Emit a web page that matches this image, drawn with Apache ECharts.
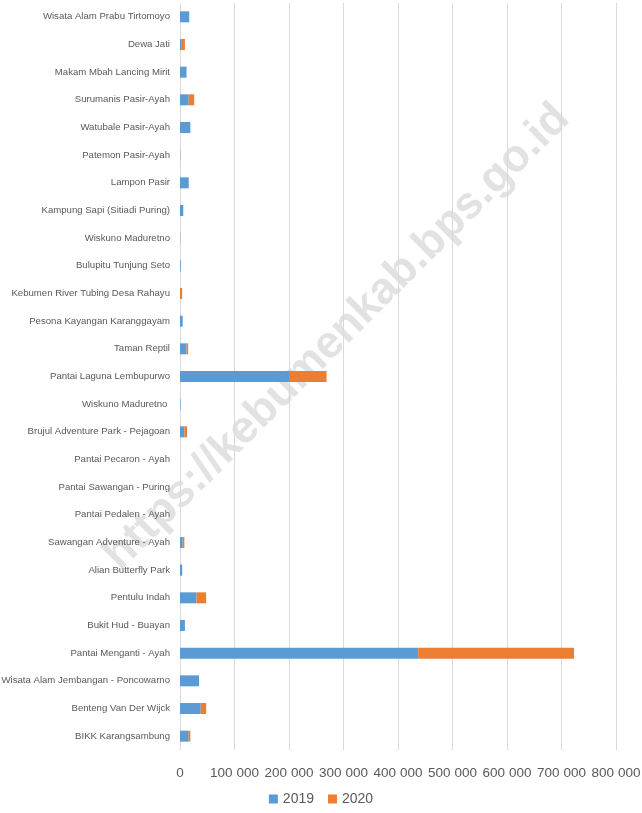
<!DOCTYPE html>
<html>
<head>
<meta charset="utf-8">
<script src="https://cdn.jsdelivr.net/npm/echarts@6/dist/echarts.min.js"></script>
<style>
  html, body { margin: 0; padding: 0; background: #fff; }
  #main { width: 642px; height: 813px; }
</style>
</head>
<body>
<div id="main"></div>
<script>
// categories listed bottom to top (as the axis draws them)
const places = [
  "BIKK Karangsambung",
  "Benteng Van Der Wijck",
  "Wisata Alam Jembangan - Poncowarno",
  "Pantai Menganti - Ayah",
  "Bukit Hud - Buayan",
  "Pentulu Indah",
  "Alian Butterfly Park",
  "Sawangan Adventure - Ayah",
  "Pantai Pedalen - Ayah",
  "Pantai Sawangan - Puring",
  "Pantai Pecaron - Ayah",
  "Brujul Adventure Park - Pejagoan",
  "Wiskuno Maduretno ",
  "Pantai Laguna Lembupurwo",
  "Taman Reptil",
  "Pesona Kayangan Karanggayam",
  "Kebumen River Tubing Desa Rahayu",
  "Bulupitu Tunjung Seto",
  "Wiskuno Maduretno",
  "Kampung Sapi (Sitiadi Puring)",
  "Lampon Pasir",
  "Patemon Pasir-Ayah",
  "Watubale Pasir-Ayah",
  "Surumanis Pasir-Ayah",
  "Makam Mbah Lancing Mirit",
  "Dewa Jati",
  "Wisata Alam Prabu Tirtomoyo"
];
const visitors2019 = [16000, 38000, 35000, 437000, 9000, 30500, 4000, 5000, 0, 0, 0, 8000, 1000, 200000, 12000, 5000, 0, 1500, 500, 6000, 16000, 500, 19000, 16000, 12000, 2000, 17000];
const visitors2020 = [3000, 10000, 0, 286000, 0, 17500, 0, 3000, 0, 0, 0, 5000, 0, 69000, 3000, 0, 4000, 0, 0, 0, 0, 0, 0, 10000, 0, 7000, 0];
const years = ["2019", "2020"];
const xTicks = { min: 0, max: 800000, step: 100000 };

const chart = echarts.init(document.getElementById("main"));

function fmt(v) {
  return String(v).replace(/\B(?=(\d{3})+(?!\d))/g, " ");
}

const option = {
  animation: false,
  color: ["#5b9bd5", "#ed7d31"],
  grid: { left: 180, right: 26, top: 3, bottom: 63, containLabel: false, outerBoundsMode: "none" },
  legend: {
    bottom: 2,
    left: "center",
    itemWidth: 9,
    itemHeight: 9,
    itemGap: 14,
    icon: "rect",
    textStyle: { color: "#595959", fontSize: 14, fontFamily: "Liberation Sans" },
    data: years
  },
  xAxis: {
    type: "value",
    min: xTicks.min,
    max: xTicks.max,
    interval: xTicks.step,
    axisLine: { show: false },
    axisTick: { show: false },
    splitLine: { lineStyle: { color: "#d9d9d9", width: 1 } },
    axisLabel: {
      color: "#595959",
      fontSize: 13.5,
      fontFamily: "Liberation Sans",
      margin: 16,
      formatter: fmt,
      showMinLabel: true,
      showMaxLabel: true
    }
  },
  yAxis: {
    type: "category",
    data: places,
    axisLine: { show: false },
    axisTick: { show: false },
    axisLabel: {
      color: "#595959",
      fontSize: 9.6,
      fontFamily: "Liberation Sans",
      margin: 10,
      interval: 0
    }
  },
  graphic: [{
    type: "text",
    x: 337,
    y: 337,
    z: -10,
    silent: true,
    rotation: Math.PI / 4,
    style: {
      text: "https://kebumenkab.bps.go.id",
      fill: "rgba(190,190,190,0.45)",
      font: "bold 45px 'Liberation Sans'",
      align: "center",
      verticalAlign: "middle"
    }
  }],
  series: [
    { name: years[0], type: "bar", stack: "total", barWidth: 11, data: visitors2019 },
    { name: years[1], type: "bar", stack: "total", barWidth: 11, data: visitors2020 }
  ]
};
chart.setOption(option);
</script>
</body>
</html>
